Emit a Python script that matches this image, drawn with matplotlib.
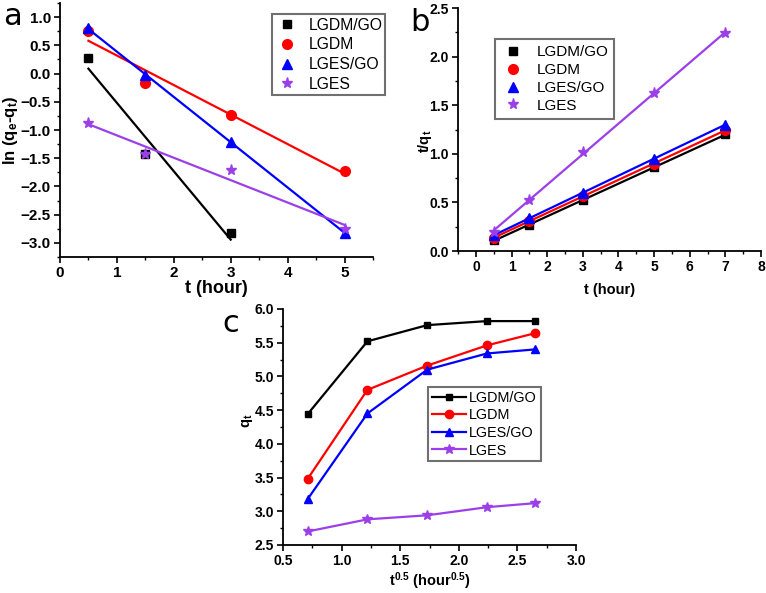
import numpy as np
import matplotlib.pyplot as plt
from matplotlib.ticker import MultipleLocator

plt.rcParams['font.family'] = ['Liberation Sans', 'DejaVu Sans']
plt.rcParams['font.weight'] = 'bold'
plt.rcParams['mathtext.fontset'] = 'custom'
plt.rcParams['mathtext.rm'] = 'Liberation Sans:bold'
plt.rcParams['mathtext.bf'] = 'Liberation Sans:bold'
plt.rcParams['mathtext.it'] = 'Liberation Sans:bold'
plt.rcParams['mathtext.default'] = 'bf'

names = ['LGDM/GO', 'LGDM', 'LGES/GO', 'LGES']
colors = ['black', '#ff0000', '#0000ff', '#9b40e8']
markers = ['s', 'o', '^', '*']
msizes = [6, 7, 7, 8]

# panel a: pseudo-first-order
ta = [[0.5, 1.5, 3], [0.5, 1.5, 3, 5], [0.5, 1.5, 3, 5], [0.5, 1.5, 3, 5]]
lna = [[0.27, -1.43, -2.82],
       [0.76, -0.17, -0.73, -1.72],
       [0.80, -0.03, -1.21, -2.82],
       [-0.87, -1.43, -1.71, -2.75]]

# panel b: pseudo-second-order
tb = [0.5, 1.5, 3, 5, 7]
tqb = [[0.11, 0.27, 0.52, 0.86, 1.20],
       [0.13, 0.31, 0.57, 0.90, 1.24],
       [0.16, 0.34, 0.60, 0.95, 1.30],
       [0.20, 0.52, 1.02, 1.63, 2.24]]

# panel c: intraparticle diffusion
tc = [0.71, 1.22, 1.73, 2.24, 2.65]
qc = [[4.44, 5.52, 5.76, 5.82, 5.82],
      [3.48, 4.80, 5.16, 5.46, 5.64],
      [3.18, 4.45, 5.10, 5.34, 5.40],
      [2.70, 2.88, 2.94, 3.06, 3.12]]

fig = plt.figure(figsize=(7.66, 5.93), dpi=100)
axa = fig.add_axes([0.0783, 0.5666, 0.4086, 0.4283])
axb = fig.add_axes([0.598, 0.5767, 0.3955, 0.4098])
axc = fig.add_axes([0.3695, 0.081, 0.3825, 0.398])

def style(ax, fs):
    ax.spines['top'].set_visible(False)
    ax.spines['right'].set_visible(False)
    for s in ['left', 'bottom']:
        ax.spines[s].set_linewidth(1.3)
    ax.tick_params(which='major', direction='out', length=4, width=1.2, labelsize=fs, pad=2.5)
    ax.tick_params(which='minor', direction='out', length=2.5, width=1.0)
    for lab in ax.get_xticklabels() + ax.get_yticklabels():
        lab.set_fontweight('bold')

def legbox(leg):
    leg.get_frame().set_edgecolor('#707070')
    leg.get_frame().set_linewidth(1.5)
    for t in leg.get_texts():
        t.set_fontweight('normal')

# a
for i in range(4):
    x = np.array(ta[i])
    y = np.array(lna[i])
    k, b = np.polyfit(x, y, 1)
    xx = np.array([x[0], x[-1]])
    axa.plot(xx, k * xx + b, color=colors[i], lw=1.6)
    axa.plot(x, y, ls='none', marker=markers[i], ms=msizes[i], color=colors[i], label=names[i])
axa.set_xlim(0, 5.5)
axa.set_ylim(-3.25, 1.25)
axa.xaxis.set_major_locator(MultipleLocator(1))
axa.xaxis.set_minor_locator(MultipleLocator(0.5))
axa.yaxis.set_major_locator(MultipleLocator(0.5))
axa.yaxis.set_minor_locator(MultipleLocator(0.25))
axa.set_xlabel('t (hour)', fontsize=13, fontweight='bold')
axa.set_ylabel('ln (q$_e$-q$_t$)', fontsize=12, fontweight='bold')
axa.xaxis.set_label_coords(0.5, -0.09)
axa.yaxis.set_label_coords(-0.128, 0.5)
style(axa, 11)
leg = axa.legend(loc='upper right', bbox_to_anchor=(1.04, 0.955), borderaxespad=0, fontsize=11.3,
                 fancybox=False, framealpha=1, handletextpad=0.6, borderpad=0.2,
                 labelspacing=0.3, handlelength=1.5)
legbox(leg)

# b
for i in range(4):
    x = np.array(tb)
    y = np.array(tqb[i])
    k, b = np.polyfit(x, y, 1)
    xx = np.array([x[0], x[-1]])
    axb.plot(xx, k * xx + b, color=colors[i], lw=1.6)
    axb.plot(x, y, ls='none', marker=markers[i], ms=msizes[i], color=colors[i], label=names[i])
axb.set_xlim(-0.5, 8)
axb.set_ylim(0, 2.5)
axb.xaxis.set_major_locator(MultipleLocator(1))
axb.xaxis.set_minor_locator(MultipleLocator(0.5))
axb.yaxis.set_major_locator(MultipleLocator(0.5))
axb.yaxis.set_minor_locator(MultipleLocator(0.25))
axb.set_xlabel('t (hour)', fontsize=10.5, fontweight='bold')
axb.set_ylabel('t/q$_t$', fontsize=10.5, fontweight='bold')
axb.xaxis.set_label_coords(0.5, -0.132)
axb.yaxis.set_label_coords(-0.08, 0.45)
style(axb, 10)
leg = axb.legend(loc='upper left', bbox_to_anchor=(0.122, 0.872), borderaxespad=0, fontsize=11,
                 fancybox=False, framealpha=1, handletextpad=0.8, borderpad=0.4,
                 labelspacing=0.25, handlelength=1.5)
legbox(leg)

# c
for i in range(4):
    axc.plot(tc, qc[i], marker=markers[i], ms=msizes[i] - 1, color=colors[i], lw=1.6, label=names[i])
axc.set_xlim(0.5, 3.0)
axc.set_ylim(2.5, 6.0)
axc.xaxis.set_major_locator(MultipleLocator(0.5))
axc.xaxis.set_minor_locator(MultipleLocator(0.25))
axc.yaxis.set_major_locator(MultipleLocator(0.5))
axc.yaxis.set_minor_locator(MultipleLocator(0.25))
axc.set_xlabel('t$^{0.5}$ (hour$^{0.5}$)', fontsize=10.5, fontweight='bold')
axc.set_ylabel('q$_t$', fontsize=10.5, fontweight='bold')
axc.xaxis.set_label_coords(0.5, -0.106)
axc.yaxis.set_label_coords(-0.095, 0.525)
style(axc, 10)
leg = axc.legend(loc='upper left', bbox_to_anchor=(0.495, 0.669), borderaxespad=0, fontsize=10.4,
                 fancybox=False, framealpha=1, handletextpad=0.2, borderpad=0.25,
                 labelspacing=0.25, handlelength=2.4)
legbox(leg)

fig.text(0.004, 0.958, 'a', fontsize=22, fontweight='normal', family='DejaVu Sans')
fig.text(0.535, 0.948, 'b', fontsize=22, fontweight='normal', family='DejaVu Sans')
fig.text(0.290, 0.440, 'c', fontsize=22, fontweight='normal', family='DejaVu Sans')

fig.savefig('out.png', dpi=100)
